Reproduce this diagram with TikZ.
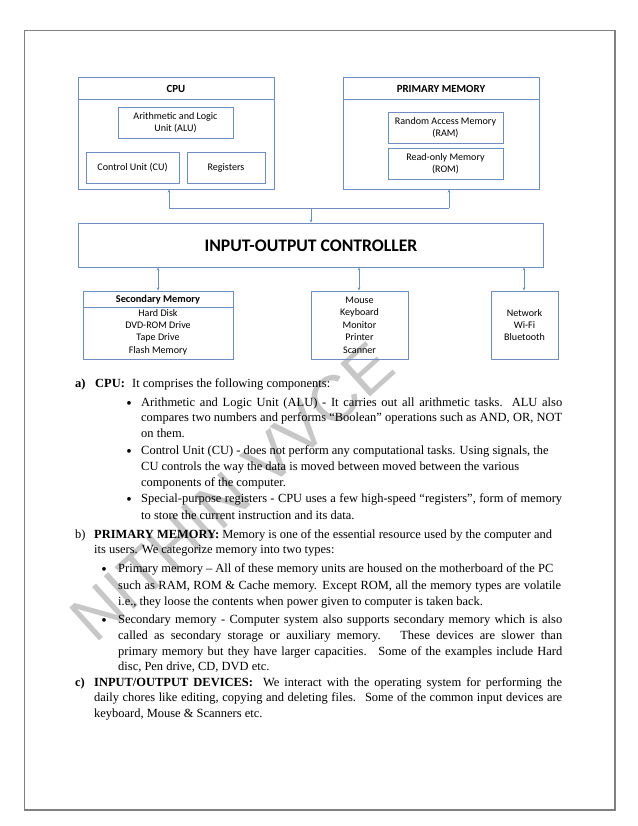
\documentclass[tikz,border=0pt]{standalone}
\usepackage{fontspec}
\setmainfont{Liberation Serif}
\newfontfamily\diag{Carlito}
\newfontfamily\wmfont{Liberation Sans}
\usetikzlibrary{fit,arrows.meta}
\newdimen\pxd \pxd=0.95925bp
\definecolor{boxc}{RGB}{110,142,190}
\definecolor{framec}{RGB}{128,128,128}
\begin{document}
\begin{tikzpicture}[x=0.95925bp,y=-0.95925bp,
  box/.style={draw=boxc, line width=0.8pt, inner sep=0pt},
  dtext/.style={font=\diag\fontsize{9.7}{11.9bp}\selectfont, align=center, inner sep=0pt},
  dtitle/.style={font=\diag\bfseries\fontsize{10.5}{12}\selectfont, inner sep=0pt},
  bus/.style={draw=boxc, line width=0.8pt},
  tip/.style={-{Stealth[length=3pt,width=2.5pt]}},
  tips/.style={{Stealth[length=3pt,width=2.5pt]}-{Stealth[length=3pt,width=2.5pt]}},
  bl/.style={anchor=base west, inner sep=0pt, font=\fontsize{12}{14}\selectfont},
  bul/.style={anchor=base, inner sep=0pt, font=\fontsize{15}{14}\selectfont}]
\useasboundingbox (0,0) rectangle (638,826);
\fill[white] (0,0) rectangle (638,826);
% watermark
\node[rotate=42, text=black!22, font=\wmfont\fontsize{62}{62}\selectfont, inner sep=0pt] (wm) at (232,492) {NITHIN VVCE};
% page frame
\node[draw=framec, line width=1.2pt, fit={(24.5,30.5) (615,810)}, inner sep=0pt] (frame) {};
% CPU
\node[box, fit={(78,77) (274,189)}] (cpu) {};
\draw[boxc, line width=0.8pt] (78,99) -- (274,99);
\node[dtitle] (cput) at (176,88.5) {CPU};
\node[box, fit={(118,107) (233,138)}] (alu) {};
\node[dtext] (alut) at (alu.center) {Arithmetic and Logic\\Unit (ALU)};
\node[box, fit={(86,152) (179,183)}] (cu) {};
\node[dtext] (cut) at (cu.center) {Control Unit (CU)};
\node[box, fit={(187,152) (265,183)}] (reg) {};
\node[dtext] (regt) at (reg.center) {Registers};
% Primary memory
\node[box, fit={(343,77) (539,189)}] (pm) {};
\draw[boxc, line width=0.8pt] (343,99) -- (539,99);
\node[dtitle] (pmt) at (441,88.5) {PRIMARY MEMORY};
\node[box, fit={(388,112) (503,143)}] (ram) {};
\node[dtext] (ramt) at (ram.center) {Random Access Memory\\(RAM)};
\node[box, fit={(388,148) (503,179)}] (rom) {};
\node[dtext] (romt) at (rom.center) {Read-only Memory\\(ROM)};
% IO controller
\node[box, fit={(78,223) (543,267)}] (ioc) {};
\node[font=\diag\bfseries\fontsize{17}{18}\selectfont, inner sep=0pt] (ioct) at (311,246) {INPUT-OUTPUT CONTROLLER};
% bottom boxes
\node[box, fit={(83,291) (233,359)}] (sm) {};
\draw[boxc, line width=0.8pt] (83,307) -- (233,307);
\node[dtitle, font=\diag\bfseries\fontsize{10}{12}\selectfont] (smt) at (158,300) {Secondary Memory};
\node[dtext] (smi) at (158,332) {Hard Disk\\DVD-ROM Drive\\Tape Drive\\Flash Memory};
\node[box, fit={(311,291) (408,359)}] (io) {};
\node[dtext] (iot) at (io.center) {Mouse\\Keyboard\\Monitor\\Printer\\Scanner};
\node[box, fit={(491,291) (558,359)}] (net) {};
\node[dtext] (nett) at (net.center) {Network\\Wi-Fi\\Bluetooth};
% bus
\coordinate (j1) at (169,208);
\coordinate (j2) at (449,208);
\coordinate (j3) at (311,208);
\draw[bus] (j1) -- (j2);
\draw[bus, tip] (j1) -- (j1 |- cpu.south);
\draw[bus, tip] (j2) -- (j2 |- pm.south);
\draw[bus, tip] (j3) -- (j3 |- ioc.north);
\coordinate (b1) at (158,0);
\coordinate (b2) at (359,0);
\coordinate (b3) at (524,0);
\draw[bus, tips] (ioc.south -| b1) -- (sm.north -| b1);
\draw[bus, tips] (ioc.south -| b2) -- (io.north -| b2);
\draw[bus, tips] (ioc.south -| b3) -- (net.north -| b3);
% text a)
\node[bl] (la) at (75,387) {\textbf{a)}};
\node[bl] (lacpu) at (95,387) {\textbf{CPU:}};
\node[bl] (la0) at (132,387) {It comprises the following components:};
\node[bul] (ba1) at (129,408) {•};
\node[bl] (la1) at (141,406) {\makebox[421\pxd][s]{Arithmetic and Logic Unit (ALU) - It carries out all arithmetic tasks. ALU also}};
\node[bl] (la2) at (141,421) {\makebox[421\pxd][s]{compares two numbers and performs “Boolean” operations such as AND, OR, NOT}};
\node[bl] (la3) at (141,437) {on them.};
\node[bul] (ba2) at (129,456) {•};
\node[bl] (la4) at (141,454) {Control Unit (CU) - does not perform any computational tasks. Using signals, the};
\node[bl] (la5) at (141,470) {CU controls the way the data is moved between moved between the various};
\node[bl] (la6) at (141,486) {components of the computer.};
\node[bul] (ba3) at (129,504) {•};
\node[bl] (la7) at (141,502) {\makebox[421\pxd][s]{Special-purpose registers - CPU uses a few high-speed “registers”, form of memory}};
\node[bl] (la8) at (141,519) {to store the current instruction and its data.};
% text b)
\node[bl] (lb) at (75,538) {b)};
\node[bl] (lb0) at (94,538) {\textbf{PRIMARY MEMORY:} Memory is one of the essential resource used by the computer and};
\node[bl] (lb1) at (94,553) {its users. We categorize memory into two types:};
\node[bul] (bb1) at (104,574) {•};
\node[bl] (lb2) at (118,572) {Primary memory – All of these memory units are housed on the motherboard of the PC};
\node[bl] (lb3) at (118,589) {\makebox[443\pxd][s]{such as RAM, ROM \& Cache memory. Except ROM, all the memory types are volatile}};
\node[bl] (lb4) at (118,605) {i.e., they loose the contents when power given to computer is taken back.};
\node[bul] (bb2) at (104,625) {•};
\node[bl] (lb5) at (118,623) {\makebox[444\pxd][s]{Secondary memory - Computer system also supports secondary memory which is also}};
\node[bl] (lb6) at (118,639) {\makebox[444\pxd][s]{called as secondary storage or auxiliary memory. \ These devices are slower than}};
\node[bl] (lb7) at (118,655) {\makebox[444\pxd][s]{primary memory but they have larger capacities. \ Some of the examples include Hard}};
\node[bl] (lb8) at (118,670) {disc, Pen drive, CD, DVD etc.};
% text c)
\node[bl] (lc) at (75,686) {\textbf{c)}};
\node[bl] (lc0) at (94,686) {\makebox[468\pxd][s]{\textbf{INPUT/OUTPUT DEVICES:} \ We interact with the operating system for performing the}};
\node[bl] (lc1) at (94,701) {\makebox[468\pxd][s]{daily chores like editing, copying and deleting files. \ Some of the common input devices are}};
\node[bl] (lc2) at (94,717) {keyboard, Mouse \& Scanners etc.};
\end{tikzpicture}
\end{document}
